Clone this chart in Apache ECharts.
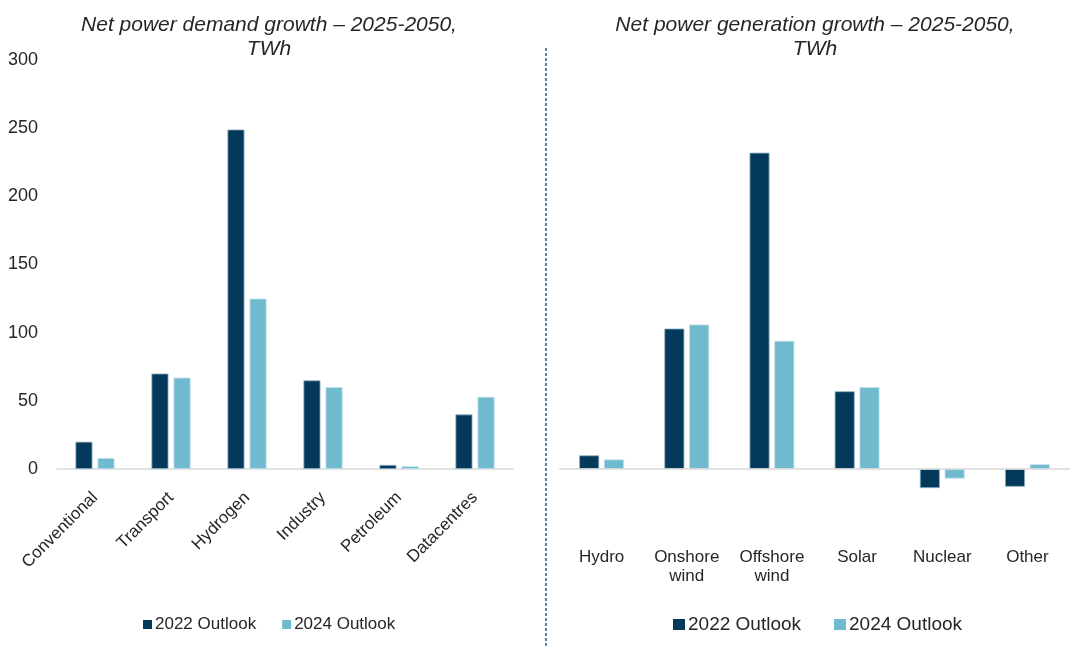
<!DOCTYPE html>
<html>
<head>
<meta charset="utf-8">
<script src="https://cdn.jsdelivr.net/npm/echarts@6/dist/echarts.min.js"></script>
<style>
  html, body { margin: 0; padding: 0; background: #ffffff; }
  #chart { width: 1075px; height: 648px; }
</style>
</head>
<body>
<div id="chart"></div>
<script>
// Net power demand growth by sector, 2025-2050 (TWh)
const demandCategories = ['Conventional', 'Transport', 'Hydrogen', 'Industry', 'Petroleum', 'Datacentres'];
const demand2022 = [20, 70, 249, 65, 3, 40];
const demand2024 = [8, 67, 125, 60, 2, 53];

// Net power generation growth by technology, 2025-2050 (TWh)
const genCategories = ['Hydro', 'Onshore\nwind', 'Offshore\nwind', 'Solar', 'Nuclear', 'Other'];
const gen2022 = [10, 103, 232, 57, -14, -13];
const gen2024 = [7, 106, 94, 60, -7, 3.5];

const yTicks = [0, 50, 100, 150, 200, 250, 300];
const seriesNames = ['2022 Outlook', '2024 Outlook'];

const DARK = '#03395A';
const LIGHT = '#6FBACF';
const DARK_EDGE = '#8FB0C4';
const LIGHT_EDGE = '#BFE0EA';
const TEXT = '#262626';
const FONT = '"Liberation Sans", Arial, sans-serif';
const ZERO_LINE = '#d9d9d9';

const chart = echarts.init(document.getElementById('chart'), null, { renderer: 'canvas' });

// Both panels share the same px-per-TWh scale; the right one extends below zero.
const PX_PER_UNIT = 409 / 300;

const darkStyle = { color: DARK, borderColor: DARK_EDGE, borderWidth: 0.8 };
const lightStyle = { color: LIGHT, borderColor: LIGHT_EDGE, borderWidth: 0.8 };

chart.setOption({
  animation: false,
  backgroundColor: '#ffffff',
  textStyle: { fontFamily: FONT },
  grid: [
    { left: 57, top: 60, width: 456, height: 409, outerBoundsMode: 'none' },
    { left: 559, top: 60, width: 511, height: 350 * PX_PER_UNIT, outerBoundsMode: 'none' }
  ],
  xAxis: [
    {
      gridIndex: 0, type: 'category', data: demandCategories,
      axisLine: { show: true, lineStyle: { color: ZERO_LINE, width: 1.5 } },
      axisTick: { show: false },
      axisLabel: { rotate: 45, margin: 26, fontSize: 17, color: TEXT, fontFamily: FONT, interval: 0 }
    },
    {
      gridIndex: 1, type: 'category', data: genCategories,
      axisLine: { show: false, onZero: false },
      axisTick: { show: false },
      axisLabel: { margin: 11, fontSize: 17, lineHeight: 19, color: TEXT, fontFamily: FONT, interval: 0, align: 'center' }
    }
  ],
  yAxis: [
    {
      gridIndex: 0, type: 'value', min: yTicks[0], max: yTicks[yTicks.length - 1], interval: 50,
      axisLine: { show: false }, axisTick: { show: false }, splitLine: { show: false },
      axisLabel: { fontSize: 18, color: TEXT, fontFamily: FONT, margin: 19 }
    },
    {
      gridIndex: 1, type: 'value', min: -50, max: 300, interval: 50,
      axisLine: { show: false }, axisTick: { show: false }, axisLabel: { show: false },
      splitLine: { show: false }
    }
  ],
  legend: [
    {
      data: seriesNames, left: 138, top: 611, icon: 'rect', itemWidth: 9, itemHeight: 9, itemGap: 26,
      selectedMode: false,
      itemStyle: { borderWidth: 0 },
      textStyle: { fontSize: 17, color: TEXT, fontFamily: FONT, padding: [0, 0, 0, -2] }
    },
    {
      data: seriesNames, left: 668, top: 610, icon: 'rect', itemWidth: 12, itemHeight: 11, itemGap: 33,
      selectedMode: false,
      itemStyle: { borderWidth: 0 },
      textStyle: { fontSize: 19, color: TEXT, fontFamily: FONT, padding: [0, 0, 0, -2] }
    }
  ],
  series: [
    { name: seriesNames[0], type: 'bar', xAxisIndex: 0, yAxisIndex: 0, data: demand2022, barWidth: 17, barGap: '30%', itemStyle: darkStyle },
    { name: seriesNames[1], type: 'bar', xAxisIndex: 0, yAxisIndex: 0, data: demand2024, barWidth: 17, barGap: '30%', itemStyle: lightStyle },
    {
      name: seriesNames[0], type: 'bar', xAxisIndex: 1, yAxisIndex: 1, data: gen2022, barWidth: 20, barGap: '24%', itemStyle: darkStyle,
      // zero baseline of the generation panel
      markLine: {
        silent: true, symbol: 'none', label: { show: false },
        lineStyle: { color: ZERO_LINE, width: 1.5, type: 'solid' },
        data: [{ yAxis: 0 }]
      },
      z: 3
    },
    { name: seriesNames[1], type: 'bar', xAxisIndex: 1, yAxisIndex: 1, data: gen2024, barWidth: 20, barGap: '24%', itemStyle: lightStyle, z: 3 }
  ],
  graphic: [
    {
      type: 'text', x: 269, y: 13,
      style: {
        text: 'Net power demand growth – 2025-2050,\nTWh', textAlign: 'center',
        font: 'italic 21px ' + FONT, fill: TEXT, lineHeight: 24
      }
    },
    {
      type: 'text', x: 815, y: 13,
      style: {
        text: 'Net power generation growth – 2025-2050,\nTWh', textAlign: 'center',
        font: 'italic 21px ' + FONT, fill: TEXT, lineHeight: 24
      }
    },
    {
      type: 'line', shape: { x1: 546, y1: 48, x2: 546, y2: 648 },
      style: { stroke: '#1F5F85', lineWidth: 1.5, lineDash: [3, 2] }
    }
  ]
});
</script>
</body>
</html>
